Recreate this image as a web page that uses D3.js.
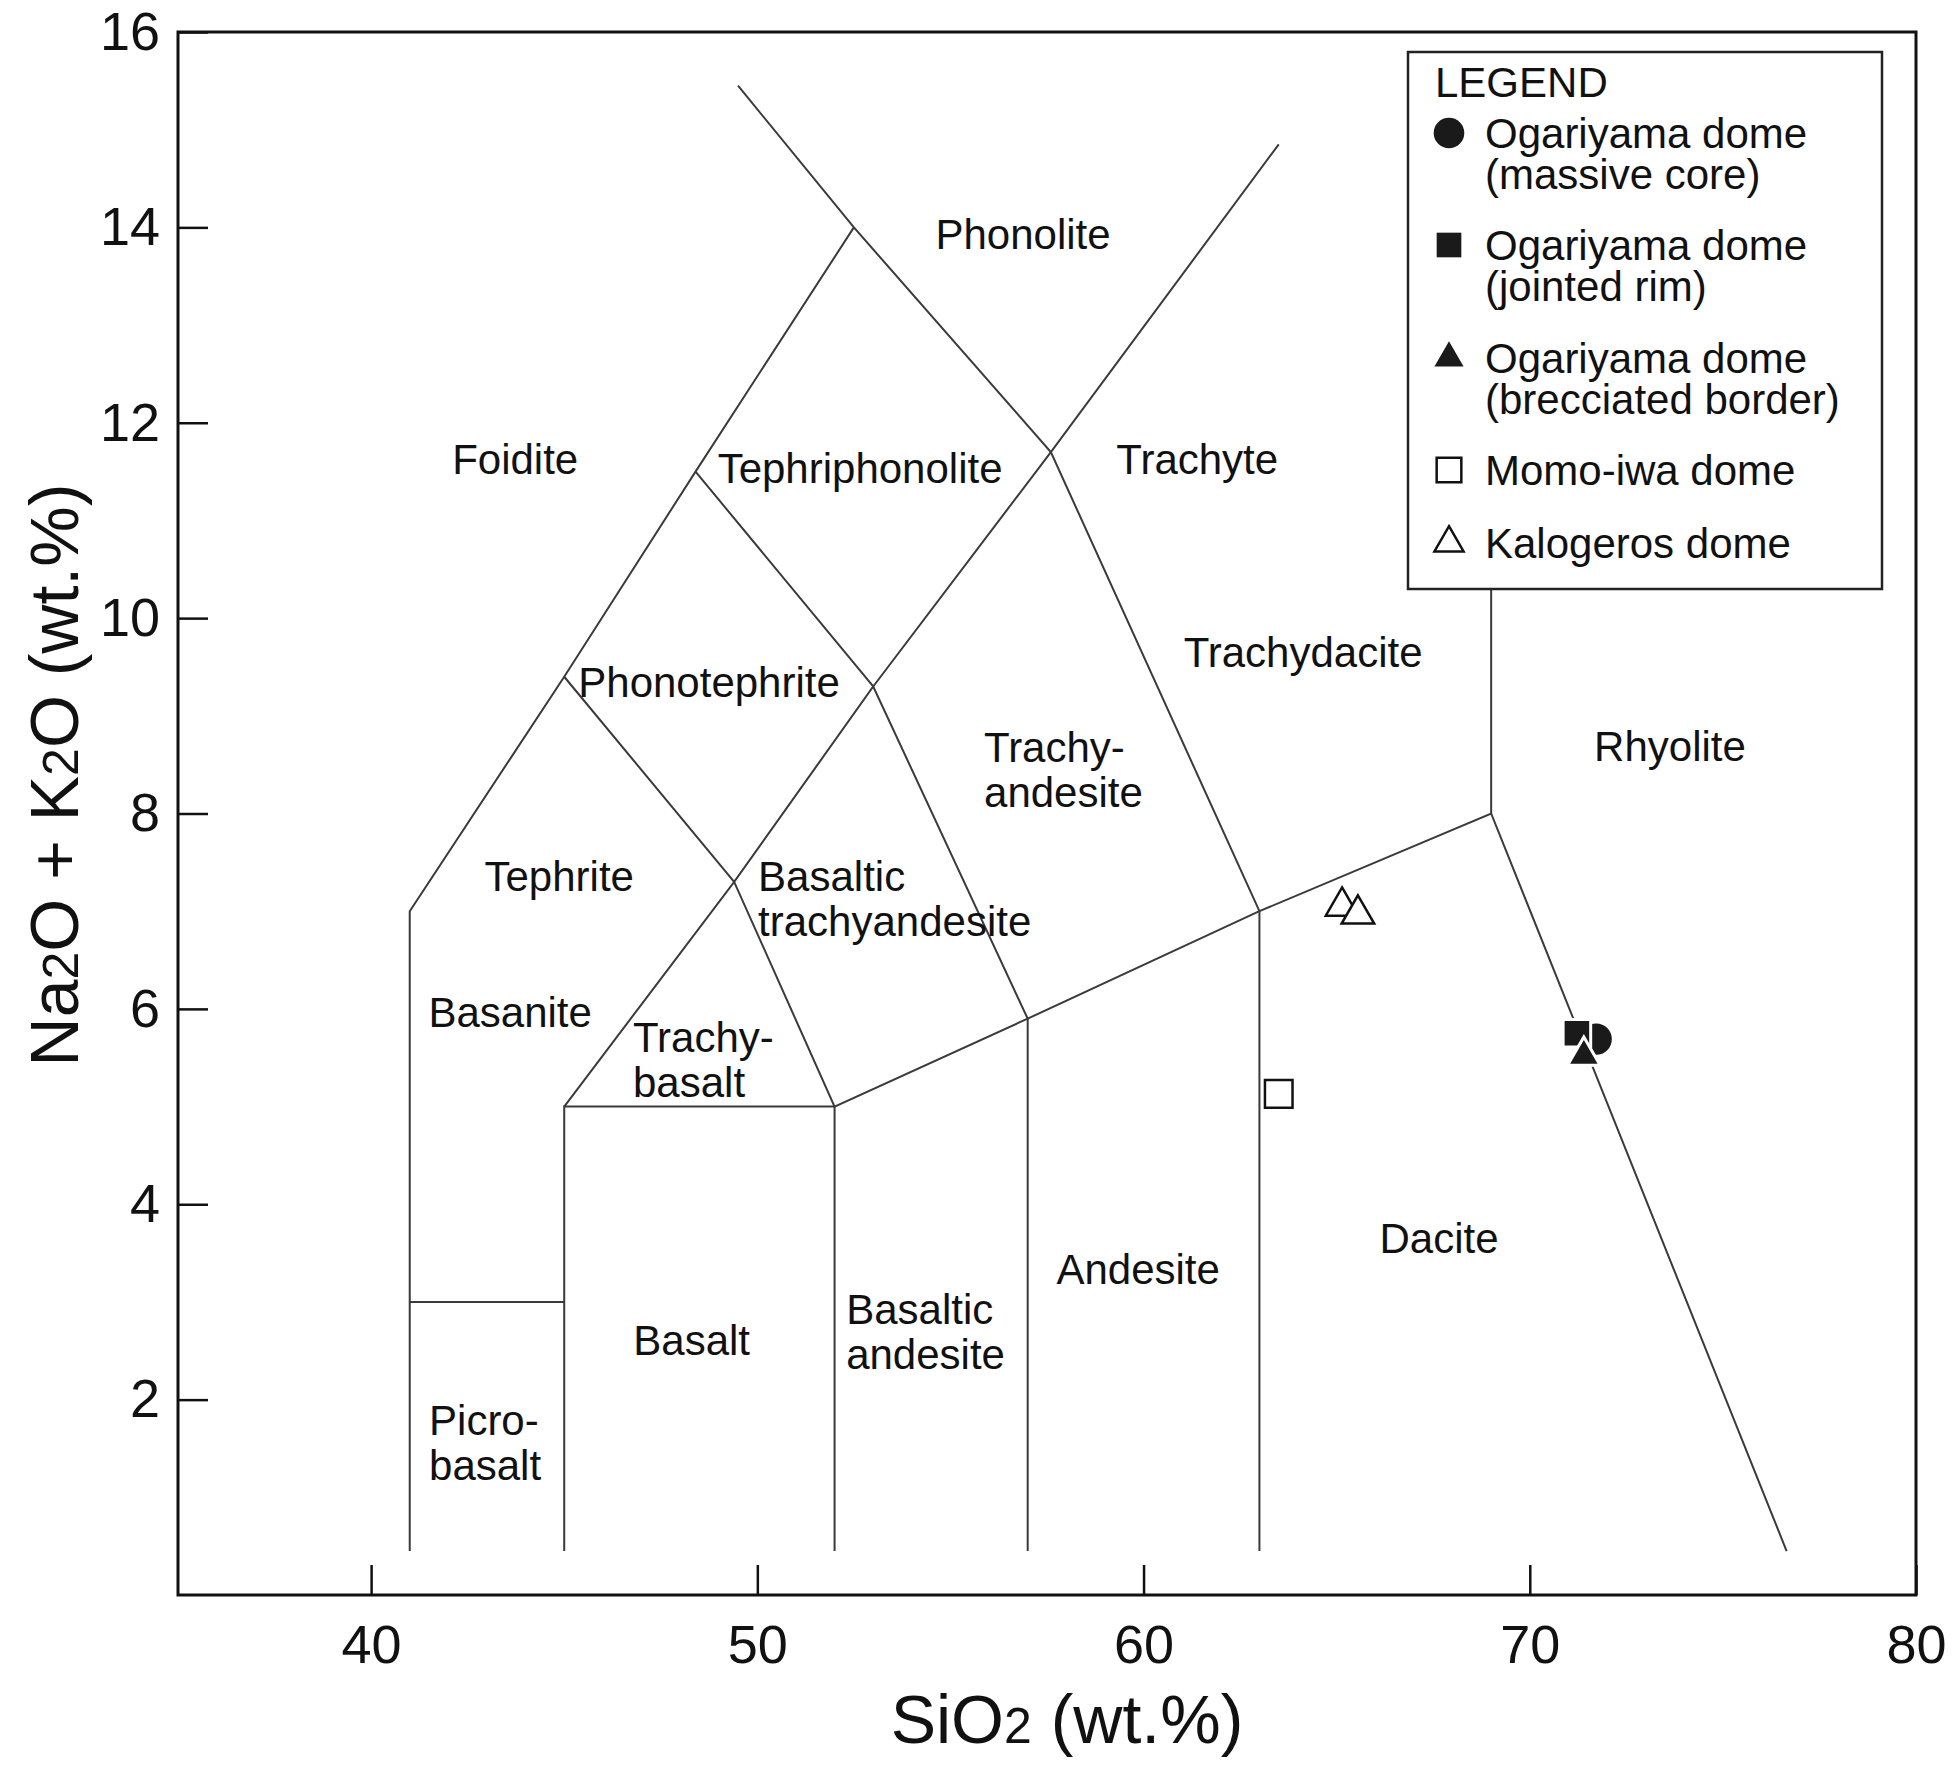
<!DOCTYPE html>
<html>
<head>
<meta charset="utf-8">
<script src="https://cdn.jsdelivr.net/npm/d3@7"></script>
<style>
  body { margin: 0; background: #fff; }
  text { font-family: "Liberation Sans", Arial, sans-serif; fill: #111; }
</style>
</head>
<body>
<script>
// axis ticks
var xTicks = [40, 50, 60, 70, 80];
var yTicks = [2, 4, 6, 8, 10, 12, 14, 16];

// TAS field boundaries (SiO2, Na2O+K2O)
var boundaries = [
    [[41, 0.45], [41, 7], [45, 9.4], [48.4, 11.5], [52.5, 14]],
    [[49.5, 15.45], [52.5, 14], [57.6, 11.7], [63, 7], [63, 0.45]],
    [[41, 3], [45, 3]],
    [[45, 0.45], [45, 5], [52, 5], [52, 0.45]],
    [[45, 5], [49.4, 7.3], [52, 5], [57, 5.9], [63, 7], [69, 8], [76.65, 0.45]],
    [[57, 0.45], [57, 5.9], [53, 9.3], [49.4, 7.3], [45, 9.4]],
    [[48.4, 11.5], [53, 9.3], [57.6, 11.7], [63.5, 14.85]],
    [[69, 8], [69, 12]]
];

// field names
var fieldNames = ["Phonolite", "Foidite", "Tephriphonolite", "Trachyte", "Trachydacite",
    "Phonotephrite", "Trachy-\nandesite", "Rhyolite", "Tephrite", "Basaltic\ntrachyandesite",
    "Basanite", "Trachy-\nbasalt", "Dacite", "Andesite", "Basaltic\nandesite", "Basalt", "Picro-\nbasalt"];
var fieldX = [56.88, 43.73, 52.66, 61.39, 64.13, 48.75, 55.87, 73.63, 44.87, 50.02,
    43.6, 46.78, 67.65, 59.86, 52.3, 48.3, 41.5];
var fieldY = [13.93, 11.63, 11.53, 11.63, 9.65, 9.34, 8.68, 8.69, 7.36, 7.36,
    5.97, 5.71, 3.65, 3.33, 2.92, 2.61, 1.79];
var fieldAlign = ["middle", "middle", "middle", "middle", "middle", "middle", "start", "middle", "middle", "start",
    "middle", "start", "middle", "middle", "start", "middle", "start"];

// samples
var seriesNames = ["Ogariyama dome\n(massive core)", "Ogariyama dome\n(jointed rim)",
    "Ogariyama dome\n(brecciated border)", "Momo-iwa dome", "Kalogeros dome"];
var seriesShape = ["circle", "square", "triangle", "square", "triangle"];
var seriesFilled = [true, true, true, false, false];
var seriesSiO2 = [[71.72], [71.22], [71.4], [63.5], [65.14, 65.55]];
var seriesAlk = [[5.69], [5.75], [5.52], [5.13], [7.05, 6.97]];

var W = 1954, H = 1780;
var margin = {top: 32, right: 38, bottom: 185, left: 178};

var x = d3.scaleLinear().domain([35, 80]).range([margin.left, W - margin.right]);
var y = d3.scaleLinear().domain([0, 16]).range([H - margin.bottom, margin.top]);

var svg = d3.select("body").append("svg")
    .attr("width", W)
    .attr("height", H);

var shapes = {circle: d3.symbolCircle, square: d3.symbolSquare, triangle: d3.symbolTriangle};
var sizes = {circle: 920, square: 760, triangle: 460};

// boundaries
var line = d3.line()
    .x(function(d) { return x(d[0]); })
    .y(function(d) { return y(d[1]); });

svg.append("g").selectAll("path")
    .data(boundaries)
    .enter()
    .append("path")
    .attr("d", line)
    .attr("fill", "none")
    .attr("stroke", "#3a3a3a")
    .attr("stroke-width", 2);

// field labels
var labels = svg.append("g").selectAll("text")
    .data(fieldNames)
    .enter()
    .append("text")
    .attr("text-anchor", function(d, i) { return fieldAlign[i]; })
    .style("font-size", "42px");

labels.each(function(d, i) {
    var t = d3.select(this);
    d.split("\n").forEach(function(s, j) {
        t.append("tspan")
            .attr("x", x(fieldX[i]))
            .attr("y", y(fieldY[i]) + j * 45)
            .attr("dy", "0.35em")
            .text(s);
    });
});

// axes
var xAxis = svg.append("g")
    .attr("transform", "translate(0," + y(0) + ")")
    .call(d3.axisBottom(x).tickValues(xTicks).tickSize(-30).tickPadding(30).tickFormat(d3.format("d")));
var yAxis = svg.append("g")
    .attr("transform", "translate(" + x(35) + ",0)")
    .call(d3.axisLeft(y).tickValues(yTicks).tickSize(-30).tickPadding(18).tickFormat(d3.format("d")));

[xAxis, yAxis].forEach(function(a) {
    a.select(".domain").remove();
    a.selectAll("line").attr("stroke", "#111").attr("stroke-width", 2.5);
    a.selectAll("text").style("font-size", "54px").style("font-family", "'Liberation Sans', Arial, sans-serif").attr("fill", "#111");
});

// frame
svg.append("rect")
    .attr("x", x(35))
    .attr("y", y(16))
    .attr("width", x(80) - x(35))
    .attr("height", y(0) - y(16))
    .attr("fill", "none")
    .attr("stroke", "#111")
    .attr("stroke-width", 3);

// samples
seriesNames.forEach(function(name, k) {
    var pts = seriesSiO2[k].map(function(v, j) { return [v, seriesAlk[k][j]]; });
    svg.append("g").selectAll("path")
        .data(pts)
        .enter()
        .append("path")
        .attr("transform", function(d) { return "translate(" + x(d[0]) + "," + y(d[1]) + ")"; })
        .attr("d", d3.symbol().type(shapes[seriesShape[k]]).size(sizes[seriesShape[k]]))
        .attr("fill", seriesFilled[k] ? "#1a1a1a" : "#fff")
        .attr("stroke", seriesFilled[k] ? "#fff" : "#111")
        .attr("stroke-width", seriesFilled[k] ? 3 : 2.5);
});

// legend
var lg = svg.append("g");
lg.append("rect")
    .attr("x", 1408).attr("y", 52)
    .attr("width", 474).attr("height", 537)
    .attr("fill", "#fff")
    .attr("stroke", "#222")
    .attr("stroke-width", 2.5);

lg.append("text")
    .attr("x", 1435).attr("y", 82)
    .attr("dy", "0.35em")
    .style("font-size", "42px")
    .text("LEGEND");

var legendY = [133, 245, 358, 470, 543];
seriesNames.forEach(function(name, k) {
    lg.append("path")
        .attr("transform", "translate(1449," + legendY[k] + ")")
        .attr("d", d3.symbol().type(shapes[seriesShape[k]]).size(sizes[seriesShape[k]] * 0.8))
        .attr("fill", seriesFilled[k] ? "#1a1a1a" : "#fff")
        .attr("stroke", seriesFilled[k] ? "none" : "#111")
        .attr("stroke-width", 2.5);
    var t = lg.append("text").style("font-size", "42px");
    name.split("\n").forEach(function(s, j) {
        t.append("tspan")
            .attr("x", 1485)
            .attr("y", legendY[k] + j * 41)
            .attr("dy", "0.35em")
            .text(s);
    });
});

// axis titles
var xt = svg.append("text")
    .attr("x", 1067).attr("y", 1743)
    .attr("text-anchor", "middle")
    .style("font-size", "68px");
xt.append("tspan").text("SiO");
xt.append("tspan").style("font-size", "50px").text("2");
xt.append("tspan").text(" (wt.%)");

var yt = svg.append("text")
    .attr("transform", "translate(78,775) rotate(-90)")
    .attr("text-anchor", "middle")
    .style("font-size", "68px");
yt.append("tspan").text("Na");
yt.append("tspan").style("font-size", "50px").text("2");
yt.append("tspan").text("O + K");
yt.append("tspan").style("font-size", "50px").text("2");
yt.append("tspan").text("O (wt.%)");
</script>
</body>
</html>
